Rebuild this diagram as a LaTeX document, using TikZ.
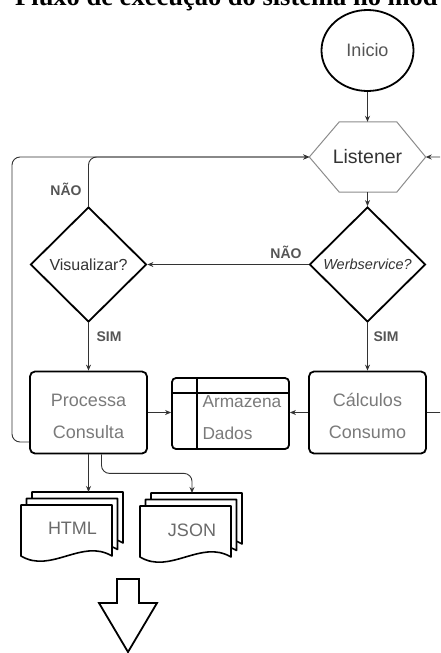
\documentclass[tikz,border=0pt]{standalone}
\usepackage{fontspec}
\setmainfont{Liberation Sans}
\newfontfamily\titlefont{Liberation Serif}
\usetikzlibrary{arrows.meta,shapes.geometric,calc}
\definecolor{txtdark}{HTML}{333333}
\definecolor{txtmid}{HTML}{555555}
\definecolor{txtlight}{HTML}{7A7A7A}
\definecolor{doctxt}{HTML}{6A6A6A}
\definecolor{hexline}{HTML}{8C8C8C}
\definecolor{connc}{HTML}{333333}
\newcommand\mdpage[2]{%
  \draw[docline] (#1,#2) -- (#1+91,#2) -- (#1+91,#2+51)
    .. controls (#1+61,#2+33) and (#1+30,#2+69) .. (#1,#2+51) -- cycle;}
\newcommand\multidoc[2]{%
  \mdpage{#1+11}{#2-13}\mdpage{#1+5.5}{#2-6.5}\mdpage{#1}{#2}}
\begin{document}
\begin{tikzpicture}[x=1pt,y=-1pt,
  thickline/.style={line width=1.8pt, draw=black},
  docline/.style={line width=1.6pt, draw=black, fill=white, line join=round},
  conn/.style={draw=connc, line width=0.9pt, -{Stealth[length=6pt,width=5pt]}, rounded corners=8pt},
  plainconn/.style={draw=connc, line width=0.9pt, rounded corners=8pt},
  procbox/.style={thickline, rounded corners=5pt, minimum width=117pt, minimum height=82pt, inner sep=0pt},
  boxtxt/.style={align=center, text=txtlight, inner sep=0pt, font=\fontsize{18}{32}\selectfont},
  decision/.style={diamond, thickline, minimum width=116pt, minimum height=115pt, inner sep=0pt, aspect=1, text=txtdark},
  lbl/.style={anchor=base, inner sep=0pt, text=txtmid, font=\bfseries\fontsize{14}{16}\selectfont},
  doclbl/.style={inner sep=0pt, text=doctxt, font=\fontsize{18}{20}\selectfont}
]
\useasboundingbox (0,0) rectangle (440,653);
\fill[white] (0,0) rectangle (440,653);
\clip (0,0) rectangle (440,653);

% title (cut at top)
\node[anchor=base west, inner sep=0pt, font=\titlefont\bfseries\fontsize{26.5}{30}\selectfont] (title) at (15,5.5) {Fluxo de execução do sistema no mod};

% start
\node[ellipse, thickline, minimum width=92pt, minimum height=81pt, inner sep=0pt, text=txtmid, font=\fontsize{18}{20}\selectfont] (ini) at (367.5,50.5) {Inicio};

% listener hexagon
\node[minimum width=116pt, minimum height=70pt, inner sep=0pt, text=txtdark, font=\fontsize{19.5}{22}\selectfont] (ls) at (367.5,157) {Listener};
\draw[draw=hexline, line width=1pt] (ls.west) -- ($(ls.north west)+(30,0)$) -- ($(ls.north east)+(-29,0)$) -- (ls.east) -- ($(ls.south east)+(-29,0)$) -- ($(ls.south west)+(30,0)$) -- cycle;

% decisions
\node[decision, font=\itshape\fontsize{14.5}{16}\selectfont] (ws) at (367.5,264.5) {Werbservice?};
\node[decision, font=\fontsize{16}{18}\selectfont] (vis) at (88.5,264.5) {Visualizar?};

% process boxes
\node[procbox] (pc) at (88.5,412.5) {};
\node[boxtxt] (pct) at (88.5,416) {Processa\\Consulta};
\node[procbox] (cc) at (367.5,412.5) {};
\node[boxtxt] (cct) at (367.5,416) {Cálculos\\Consumo};

% internal storage
\node[thickline, rounded corners=4pt, minimum width=117pt, minimum height=71pt, inner sep=0pt] (ad) at (230.5,413.5) {};
\draw[thickline] ($(ad.north west)+(26,0)$) -- ($(ad.south west)+(26,0)$);
\draw[thickline] ($(ad.north west)+(0,16)$) -- ($(ad.north east)+(0,16)$);
\node[anchor=west, align=left, inner sep=0pt, text=txtlight, font=\fontsize{17.3}{32.3}\selectfont] (adt) at (202.3,417.3) {Armazena\\Dados};

% documents
\multidoc{21}{505}
\coordinate (htmltop) at (32,492);
\node[doclbl] (html) at (72.5,528.3) {HTML};
\multidoc{140}{506}
\coordinate (jsontop) at (151,493);
\node[doclbl] (json) at (192,530.3) {JSON};

% big hollow arrow
\draw[thickline, line join=miter] (117,579) -- (139,579) -- (139,603) -- (157,603) -- (128,652) -- (99,603) -- (117,603) -- cycle;

% connectors
\draw[conn] (ini) -- (ls);
\draw[conn] (ls.south) -- (ws.north);
\draw[conn] (ws.west) -- (vis.east);
\draw[conn] (vis.south) -- (pc.north);
\draw[conn] (ws.south) -- (cc.north);
\draw[conn] (vis.north) |- (ls.west);
\coordinate (lx) at (12,157);
\draw[conn] ($(pc.west)+(0,29.5)$) -| (lx) -- (ls.west);
\coordinate (rx) at (452,157);
\draw[conn] (cc.east) -| (rx) -- (ls.east);
\draw[conn] (pc.east) -- (pc.east -| ad.west);
\draw[conn] (cc.west) -- (cc.west -| ad.east);
\draw[conn] (pc.south) -- (pc.south |- htmltop);
\draw[conn] ($(pc.south)+(13,0)$) -- ++(0,19) -| ($(jsontop)+(41,0)$);

% labels
\node[lbl] (nao1) at (286,258.3) {NÃO};
\node[lbl] (nao2) at (66,195) {NÃO};
\node[lbl] (sim1) at (109,341.7) {SIM};
\node[lbl] (sim2) at (386,341.7) {SIM};
\end{tikzpicture}
\end{document}
